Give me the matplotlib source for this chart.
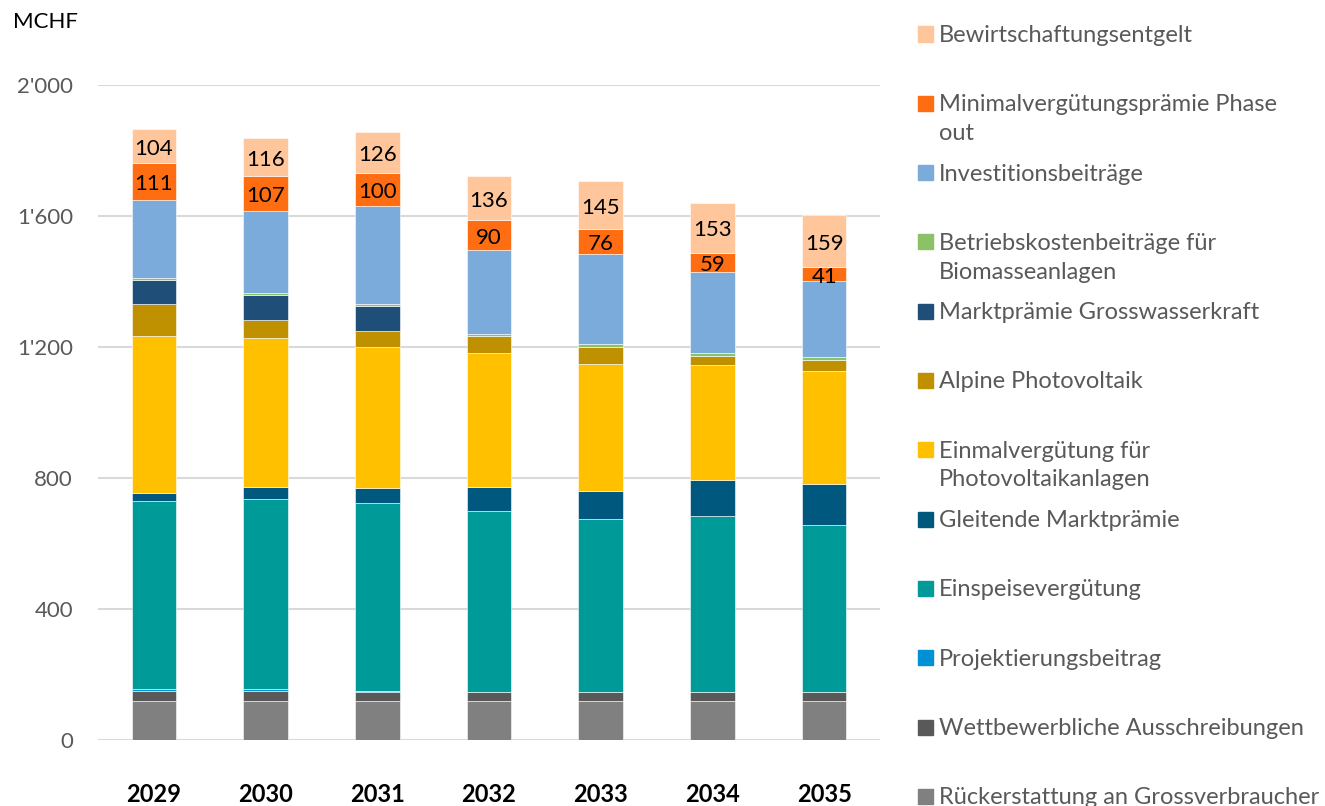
import numpy as np
import matplotlib.pyplot as plt
from matplotlib.patches import Rectangle
from matplotlib.ticker import FuncFormatter

plt.rcParams['font.family'] = ['Lato', 'DejaVu Sans']

# ---------------------------------------------------------------------------
# Daten (MCHF pro Jahr)
# ---------------------------------------------------------------------------
jahre = ['2029', '2030', '2031', '2032', '2033', '2034', '2035']

rueckerstattung = [120, 120, 120, 120, 120, 120, 120]
wettbewerb = [30, 30, 29, 27, 27, 27, 27]
projektierung = [7, 6, 3, 2, 2, 2, 2]
einspeise = [573, 582, 573, 551, 527, 535, 509]
gleitende = [26, 35, 46, 74, 85, 111, 125]
einmalverg = [478, 454, 431, 409, 388, 351, 346]
alpine_pv = [98, 57, 49, 51, 53, 28, 32]
markt_gross = [74, 76, 74, 0, 0, 0, 0]
betriebskosten = [5, 6, 8, 6, 9, 10, 10]
investition = [240, 250, 299, 258, 275, 246, 232]
minimalverg = [111, 107, 100, 90, 76, 59, 41]
bewirtschaftung = [104, 116, 126, 136, 145, 153, 159]

# Reihenfolge von unten nach oben
serien = [
    ('Rückerstattung an Grossverbraucher', rueckerstattung, '#808080'),
    ('Wettbewerbliche Ausschreibungen', wettbewerb, '#595959'),
    ('Projektierungsbeitrag', projektierung, '#0090D5'),
    ('Einspeisevergütung', einspeise, '#009A98'),
    ('Gleitende Marktprämie', gleitende, '#00587F'),
    ('Einmalvergütung für\nPhotovoltaikanlagen', einmalverg, '#FFC000'),
    ('Alpine Photovoltaik', alpine_pv, '#BF9000'),
    ('Marktprämie Grosswasserkraft', markt_gross, '#1F4E79'),
    ('Betriebskostenbeiträge für\nBiomasseanlagen', betriebskosten, '#8CC168'),
    ('Investitionsbeiträge', investition, '#7BABDA'),
    ('Minimalvergütungsprämie Phase\nout', minimalverg, '#FF6D12'),
    ('Bewirtschaftungsentgelt', bewirtschaftung, '#FFC59B'),
]
mit_label = {'Minimalvergütungsprämie Phase\nout', 'Bewirtschaftungsentgelt'}

# ---------------------------------------------------------------------------
# Plot
# ---------------------------------------------------------------------------
W, H = 1325, 806
fig = plt.figure(figsize=(W / 100, H / 100), dpi=100)
ax = fig.add_axes([98 / W, 1 - 740.3 / H, (880 - 98) / W, (740.3 - 85.3) / H])

x = np.arange(len(jahre))
basis = np.zeros(len(jahre))
for name, werte, farbe in serien:
    werte = np.array(werte, dtype=float)
    bars = ax.bar(x, werte, width=0.4, bottom=basis, color=farbe,
                  edgecolor='white', linewidth=0.4, zorder=3)
    if name in mit_label:
        for b, v in zip(bars, werte):
            ax.annotate(f'{v:.0f}', (b.get_x() + b.get_width() / 2, b.get_y() + v / 2),
                        xytext=(0, -2), textcoords='offset points',
                        ha='center', va='center', fontsize=16, color='black', zorder=5)
    basis += werte

ax.set_xlim(-0.5, len(jahre) - 0.5)
ax.set_ylim(0, 2000)
ax.set_yticks(np.arange(0, 2001, 400))
ax.yaxis.set_major_formatter(FuncFormatter(lambda v, p: f'{int(v):,}'.replace(',', "'")))
ax.grid(axis='y', color='#D9D9D9', linewidth=1.5, zorder=0)
ax.set_axisbelow(True)
for s in ax.spines.values():
    s.set_visible(False)
ax.tick_params(axis='y', length=0, pad=18, labelsize=16, labelcolor='#595959')
ax.set_xticks(x)
ax.set_xticklabels(jahre, fontsize=17, fontweight='bold')
ax.tick_params(axis='x', length=0, pad=31)

fig.text(13 / W, 1 - 22 / H, 'MCHF', fontsize=16, ha='left', va='center')

# Legende rechts, von oben nach unten
y0, dy = 34, 69.3
for i, (name, werte, farbe) in enumerate(serien[::-1]):
    yc = y0 + i * dy
    fig.add_artist(Rectangle((918 / W, 1 - (yc + 7.5) / H), 15 / W, 15 / H,
                             transform=fig.transFigure, color=farbe))
    fig.text(939 / W, 1 - (yc - 9) / H, name, fontsize=17, color='#595959',
             ha='left', va='top', linespacing=1.45)

fig.savefig('out.png', dpi=100)
